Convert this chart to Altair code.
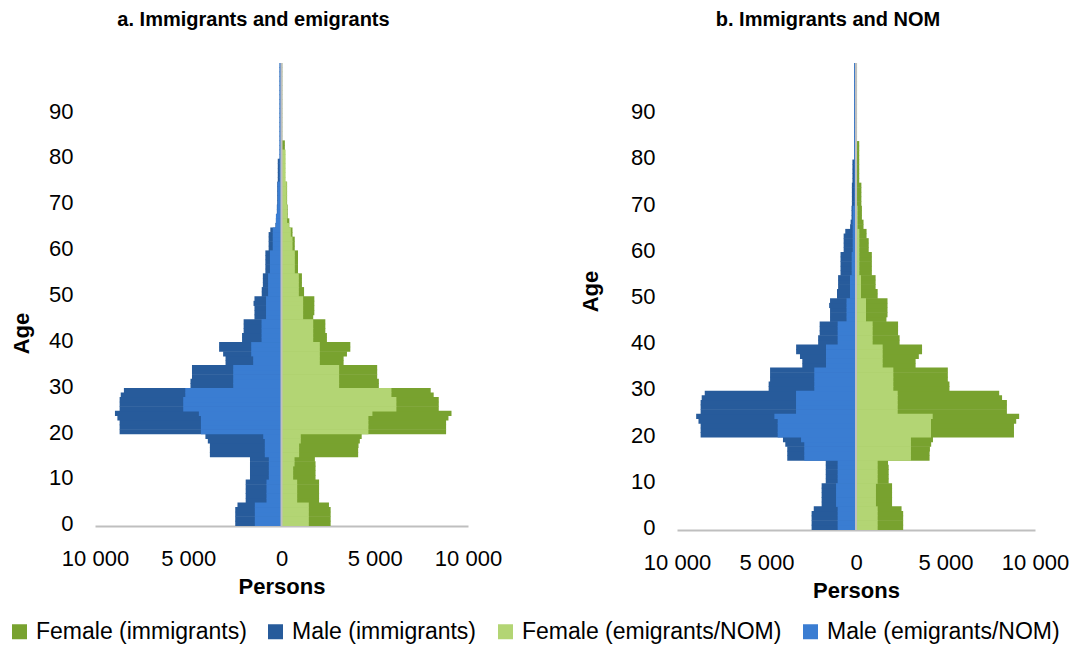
import altair as alt
import pandas as pd

AGES = list(range(101))

IMM_MALE = [
    2480, 2480, 2480, 2480, 2360, 1920, 1920, 1920, 1920, 1920,
    1690, 1690, 1690, 1690, 1690, 3840, 3840, 3840, 3950, 4080,
    8680, 8680, 8680, 8800, 8930, 8680, 8680, 8680, 8620, 8450,
    4880, 4880, 4800, 4800, 4800, 3000, 3000, 3130, 3345, 3345,
    2115, 2115, 2030, 2030, 2030, 1450, 1450, 1450, 1500, 1450,
    1060, 1060, 1000, 1000, 1000, 865, 865, 865, 865, 865,
    690, 690, 690, 690, 600, 330, 300, 250, 250, 250,
    230, 230, 230, 230, 230, 200, 200, 200, 200, 200,
    100, 100, 100, 100, 100, 100, 100, 100, 100, 100,
    100, 100, 100, 100, 100, 100, 100, 100, 100, 100,
    100,
]
IMM_FEMALE = [
    2635, 2635, 2635, 2635, 2545, 2015, 2015, 2015, 2015, 2015,
    1825, 1825, 1825, 1825, 1790, 4110, 4110, 4130, 4200, 4300,
    8825, 8825, 8825, 8950, 9115, 8430, 8430, 8430, 8160, 8000,
    5220, 5220, 5130, 5130, 5130, 3330, 3330, 3510, 3690, 3690,
    2435, 2435, 2350, 2350, 2350, 1700, 1760, 1760, 1760, 1760,
    1210, 1210, 1095, 1095, 1095, 885, 885, 885, 885, 885,
    710, 710, 710, 590, 590, 420, 420, 330, 330, 330,
    300, 300, 300, 300, 300, 180, 180, 180, 180, 180,
    180, 180, 180, 180, 40, 40, 40, 40, 40, 40,
    40, 40, 40, 40, 40, 40, 40, 40, 40, 40,
    40,
]
EMI_MALE = [
    1430, 1430, 1430, 1430, 1430, 805, 805, 805, 805, 805,
    680, 680, 680, 680, 680, 895, 895, 895, 895, 980,
    4320, 4320, 4320, 4320, 4430, 5270, 5270, 5270, 5160, 5160,
    2590, 2590, 2590, 2590, 2590, 1520, 1520, 1625, 1625, 1625,
    1070, 1070, 1070, 1070, 1070, 830, 830, 830, 830, 830,
    720, 720, 720, 720, 720, 620, 620, 620, 620, 620,
    470, 470, 470, 470, 470, 300, 300, 300, 230, 230,
    200, 200, 200, 200, 200, 105, 105, 105, 105, 105,
    105, 105, 105, 105, 105, 105, 105, 105, 105, 105,
    105, 105, 105, 105, 105, 105, 105, 105, 105, 105,
    105,
]
EMI_FEMALE = [
    1465, 1465, 1465, 1465, 1465, 840, 840, 840, 840, 840,
    625, 625, 625, 700, 700, 945, 945, 945, 1035, 1035,
    4660, 4660, 4660, 4660, 4875, 6160, 6160, 6160, 5895, 5895,
    3090, 3090, 3090, 3090, 3090, 2055, 2055, 2055, 2055, 2055,
    1700, 1700, 1700, 1700, 1700, 1160, 1160, 1160, 1160, 1160,
    930, 930, 930, 930, 930, 715, 715, 715, 715, 715,
    590, 590, 590, 500, 500, 400, 300, 300, 300, 300,
    280, 280, 280, 280, 280, 220, 220, 220, 220, 220,
    220, 220, 30, 30, 30, 30, 30, 30, 30, 30,
    30, 30, 30, 30, 30, 30, 30, 30, 30, 30,
    30,
]
NOM_MALE = [
    1025, 1025, 1025, 1025, 1025, 1115, 1115, 1115, 1115, 1115,
    1025, 1025, 1025, 1025, 1025, 2890, 2890, 2890, 2890, 3070,
    4375, 4375, 4375, 4375, 4560, 3350, 3350, 3350, 3350, 3350,
    2330, 2330, 2330, 2330, 2330, 1675, 1675, 1675, 1675, 1675,
    1025, 1025, 1025, 1025, 1025, 530, 530, 530, 530, 530,
    335, 335, 335, 335, 335, 240, 240, 240, 240, 240,
    185, 185, 185, 185, 185, 185, 185, 185, 185, 185,
    95, 95, 95, 95, 95, 95, 95, 95, 95, 95,
    95, 95, 95, 95, 95, 95, 95, 95, 95, 95,
    95, 95, 95, 95, 95, 95, 95, 95, 95, 95,
    95,
]
NOM_FEMALE = [
    1210, 1210, 1210, 1210, 1210, 1115, 1115, 1115, 1115, 1115,
    1210, 1210, 1210, 1210, 1210, 3070, 3070, 3070, 3070, 3070,
    4190, 4190, 4190, 4190, 4285, 2330, 2330, 2330, 2330, 2330,
    2085, 2085, 2085, 2085, 2085, 1490, 1490, 1490, 1490, 1490,
    930, 930, 930, 930, 930, 560, 560, 560, 560, 560,
    280, 280, 280, 280, 280, 185, 185, 185, 185, 185,
    185, 185, 185, 185, 185, 95, 95, 95, 95, 95,
    60, 60, 60, 60, 60, 60, 60, 60, 60, 60,
    60, 60, 60, 60, 60, 60, 60, 60, 60, 60,
    60, 60, 60, 60, 60, 60, 60, 60, 60, 60,
    60,
]

SERIES = ["Female (immigrants)", "Male (immigrants)",
          "Female (emigrants/NOM)", "Male (emigrants/NOM)"]
COLORS = ["#78a22f", "#275b9b", "#b3d574", "#3a7dd2"]
FONT = "Liberation Sans"


def pyramid_frame(female, male, tag):
    # bands overlap a little so no seams show between adjacent ages
    rows = []
    for age, f, m in zip(AGES, female, male):
        lo, hi = age - 0.5, min(age + 0.62, 100.5)
        rows.append({"lo": lo, "hi": hi, "persons": f,
                     "base": 0, "series": f"Female ({tag})"})
        rows.append({"lo": lo, "hi": hi, "persons": -m,
                     "base": 0, "series": f"Male ({tag})"})
    return pd.DataFrame(rows)


color_scale = alt.Scale(domain=SERIES, range=COLORS)


def panel(emi_female, emi_male, title, width, height, age_x, age_y):
    x_axis = alt.Axis(
        title="Persons", values=[-10000, -5000, 0, 5000, 10000],
        labelExpr="replace(format(abs(datum.value), ','), ',', ' ')",
        grid=False, ticks=False, domainColor="#bfbfbf", domainWidth=2,
        labelFontSize=22, labelPadding=22, labelFlush=False, labelColor="black",
        titleFontSize=22, titleFontWeight="bold", titlePadding=7, titleColor="black",
    )
    y_axis = alt.Axis(
        title="Age", values=list(range(0, 100, 10)), grid=False, ticks=False,
        domain=False, labelFontSize=22, labelPadding=22, labelColor="black",
        titleFontSize=22, titleFontWeight="bold", titleColor="black",
        titleX=age_x, titleY=age_y, titleAlign="center",
    )

    def bars(df):
        return alt.Chart(df).mark_bar(strokeWidth=0).encode(
            x=alt.X("persons:Q", scale=alt.Scale(domain=[-10000, 10000], nice=False),
                    axis=x_axis),
            x2="base:Q",
            y=alt.Y("lo:Q", scale=alt.Scale(domain=[-0.5, 100.5], nice=False, zero=False),
                    axis=y_axis),
            y2="hi:Q",
            color=alt.Color("series:N", scale=color_scale,
                            legend=alt.Legend(title=None)),
        )

    imm = bars(pyramid_frame(IMM_FEMALE, IMM_MALE, "immigrants"))
    emi = bars(pyramid_frame(emi_female, emi_male, "emigrants/NOM"))
    zero = alt.Chart(pd.DataFrame({"x": [0], "y": [-0.5], "y2": [100.5]})).mark_rule(
        color="#bfbfbf", strokeWidth=2
    ).encode(x="x:Q", y="y:Q", y2="y2:Q")

    return alt.layer(imm, emi, zero).properties(
        width=width, height=height,
        title=alt.TitleParams(title, fontSize=20, fontWeight="bold", font=FONT,
                              anchor="middle", dx=-28, offset=32, color="black"),
    )


left = panel(EMI_FEMALE, EMI_MALE, "a. Immigrants and emigrants", 373, 463, -62, 270)
right = panel(NOM_FEMALE, NOM_MALE, "b. Immigrants and NOM", 358, 467, -75, 228)

chart = alt.hconcat(left, right, spacing=77).properties(
    padding={"left": 0, "top": 2, "right": 0, "bottom": 0}
).configure(font=FONT).configure_view(stroke=None).configure_legend(
    orient="none", legendX=-87, legendY=557, direction="horizontal", padding=0,
    symbolType="square", symbolSize=225, symbolStrokeWidth=0,
    labelFontSize=23, labelColor="black", labelFont=FONT,
    columnPadding=17, labelOffset=5, labelLimit=400,
)

chart.save("out.html", embed_options={"renderer": "svg", "actions": False})
